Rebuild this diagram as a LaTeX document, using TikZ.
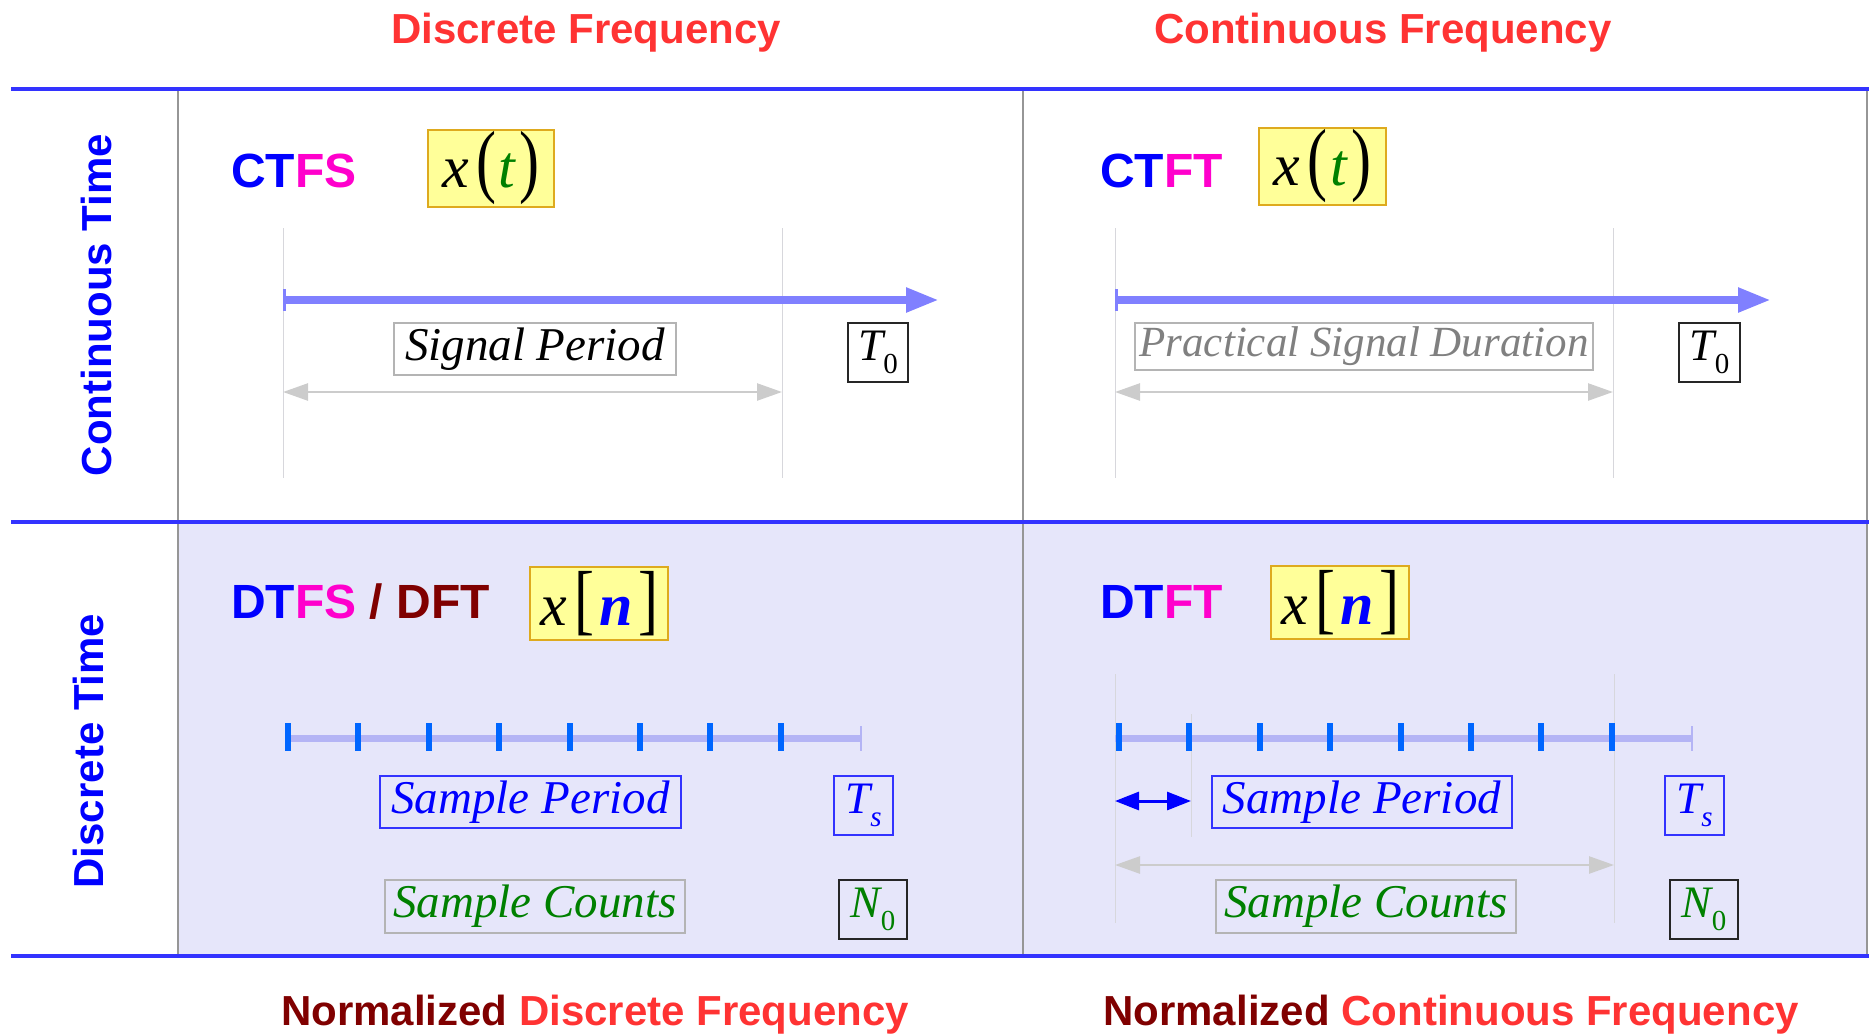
\documentclass[tikz,border=0pt]{standalone}
\usepackage{fontspec}
\setmainfont{Liberation Serif}
\setsansfont{Liberation Sans}
\usepackage{graphicx}
\usetikzlibrary{arrows.meta}
\definecolor{gridblue}{RGB}{51,51,255}
\definecolor{hdrred}{RGB}{255,51,51}
\definecolor{dkred}{RGB}{128,0,0}
\definecolor{mag}{RGB}{255,0,204}
\definecolor{lav}{RGB}{230,230,250}
\definecolor{arrowblue}{RGB}{128,128,255}
\definecolor{axisblue}{RGB}{180,180,245}
\definecolor{tickblue}{RGB}{0,102,255}
\definecolor{ygfill}{RGB}{255,255,153}
\definecolor{ygdraw}{RGB}{222,170,30}
\definecolor{tgreen}{RGB}{0,128,0}
\definecolor{lgray}{RGB}{204,204,204}
\definecolor{boxgray}{RGB}{180,180,180}
\definecolor{divgray}{RGB}{150,150,150}
\definecolor{guidegray}{RGB}{215,215,220}
\definecolor{txtgray}{RGB}{128,128,128}
\newcommand{\mysub}[1]{\raisebox{-0.3em}{\fontsize{29}{29}\selectfont #1}}
\newcommand{\tallp}[2]{\scalebox{1}[#1]{\upshape #2}}
\newcommand{\xoft}{{\fontsize{60}{64}\selectfont\itshape x\kern7pt\tallp{1.35}{(}\kern3pt\textcolor{tgreen}{t}\kern4pt\tallp{1.35}{)}}}
\newcommand{\xofn}{{\fontsize{60}{64}\selectfont\itshape x\kern8pt\tallp{1.3}{[}\kern5pt\textcolor{blue}{\bfseries n}\kern5pt\tallp{1.3}{]}}}
\tikzset{
  hdr/.style={font=\sffamily\bfseries\fontsize{42}{50}\selectfont, anchor=base, inner sep=0pt},
  rowlbl/.style={font=\sffamily\bfseries\fontsize{42}{50}\selectfont, text=blue, rotate=90, anchor=base, inner sep=0pt},
  acr/.style={font=\sffamily\bfseries\fontsize{48}{56}\selectfont, anchor=base west, inner sep=0pt},
  ybox/.style={draw=ygdraw, fill=ygfill, line width=1.5pt, inner sep=0pt},
  graybox/.style={draw=boxgray, line width=1.5pt, inner sep=0pt},
  bluebox/.style={draw=gridblue, line width=1.5pt, inner sep=0pt},
  blackbox/.style={draw=black!85, line width=1.5pt, inner sep=0pt},
  guide/.style={guidegray, line width=1pt},
  gridline/.style={gridblue, line width=4pt},
  divline/.style={divgray, line width=1.5pt},
  grayarr/.style={lgray, line width=2.5pt, {Triangle[length=25pt,width=17pt]}-{Triangle[length=25pt,width=17pt]}},
  bigarr/.style={arrowblue, line width=8pt, -{Triangle[length=33pt,width=23pt]}},
  axisline/.style={axisblue, line width=7pt},
  tickmark/.style={tickblue, line width=6pt},
}
\begin{document}
\begin{tikzpicture}[x=1pt,y=-1pt]
\useasboundingbox (0,0) rectangle (1869,1034);
% background of discrete-time row
\fill[lav] (178,522) rectangle (1867,956);
% dividers
\coordinate (d1t) at (178,88); \coordinate (d1b) at (178,956);
\coordinate (d2t) at (1023,88); \coordinate (d2b) at (1023,956);
\coordinate (d3t) at (1867,88); \coordinate (d3b) at (1867,956);
\draw[divline] (d1t) -- (d1b);
\draw[divline] (d2t) -- (d2b);
\draw[divline] (d3t) -- (d3b);
% grid lines
\coordinate (g1l) at (11,88.5); \coordinate (g1r) at (1869,88.5);
\coordinate (g2l) at (11,522); \coordinate (g2r) at (1869,522);
\coordinate (g3l) at (11,956); \coordinate (g3r) at (1869,956);
\draw[gridline] (g1l) -- (g1r);
\draw[gridline] (g2l) -- (g2r);
\draw[gridline] (g3l) -- (g3r);
% headers
\node[hdr, text=hdrred] (h1) at (586,43) {Discrete Frequency};
\node[hdr, text=hdrred] (h2) at (1383,43) {Continuous Frequency};
\node[hdr] (f1) at (595,1025) {\textcolor{dkred}{Normalized} \textcolor{hdrred}{Discrete Frequency}};
\node[hdr] (f2) at (1451,1025) {\textcolor{dkred}{Normalized} \textcolor{hdrred}{Continuous Frequency}};
\node[rowlbl] (r1) at (111,305) {Continuous Time};
\node[rowlbl] (r2) at (103,751) {Discrete Time};
% ---------- top-left: CTFS ----------
\draw[guide] (283,228) -- (283,478);
\draw[guide] (782,228) -- (782,478);
\node[acr] (ctfs) at (231,187) {\textcolor{blue}{CT}\textcolor{mag}{FS}};
\node[ybox, minimum width=126pt, minimum height=77pt] (xt1) at (491,168.5) {\xoft};
\coordinate (a1s) at (283,300); \coordinate (a1e) at (939,300);
\draw[bigarr] (a1s) -- (a1e);
\draw[arrowblue, line width=3pt] (284.5,289) -- (284.5,311);
\node[graybox, fill=white, minimum width=282pt, minimum height=52pt] (sp1) at (535,349) {\fontsize{47}{50}\selectfont\itshape Signal Period};
\node[blackbox, fill=white, minimum width=60pt, minimum height=59pt] (t01) at (878,352.5) {\fontsize{45}{48}\selectfont\itshape T\mysub{\upshape 0}};
\coordinate (b1s) at (283,392); \coordinate (b1e) at (782,392);
\draw[grayarr] (b1s) -- (b1e);
% ---------- top-right: CTFT ----------
\draw[guide] (1115,228) -- (1115,478);
\draw[guide] (1613,228) -- (1613,478);
\node[acr] (ctft) at (1100,187) {\textcolor{blue}{CT}\textcolor{mag}{FT}};
\node[ybox, minimum width=127pt, minimum height=77pt] (xt2) at (1322.5,166.5) {\xoft};
\coordinate (a2s) at (1115,300); \coordinate (a2e) at (1771,300);
\draw[bigarr] (a2s) -- (a2e);
\draw[arrowblue, line width=3pt] (1116.5,289) -- (1116.5,311);
\node[graybox, fill=white, minimum width=458pt, minimum height=47pt] (psd) at (1364,346.5) {\fontsize{43}{46}\selectfont\itshape\color{txtgray} Practical Signal Duration};
\node[blackbox, fill=white, minimum width=61pt, minimum height=59pt] (t02) at (1709.5,352.5) {\fontsize{45}{48}\selectfont\itshape T\mysub{\upshape 0}};
\coordinate (b2s) at (1115,392); \coordinate (b2e) at (1613,392);
\draw[grayarr] (b2s) -- (b2e);
% ---------- bottom-left: DTFS / DFT ----------
\node[acr] (dtfs) at (231,618) {\textcolor{blue}{DT}\textcolor{mag}{FS}\ {\color{dkred}/ DFT}};
\node[ybox, minimum width=138pt, minimum height=73pt] (xn1) at (599,603.5) {\xofn};
\coordinate (ax1s) at (285,738); \coordinate (ax1e) at (861,738);
\draw[axisline] (ax1s) -- (ax1e);
\draw[axisblue, line width=2pt] (861,726) -- (861,751);
\foreach \i in {0,...,7} \draw[tickmark] ({288+70.4*\i},723) -- ({288+70.4*\i},751);
\node[bluebox, minimum width=301pt, minimum height=52pt] (samp1) at (530.5,802) {\fontsize{47}{50}\selectfont\itshape\color{blue} Sample Period};
\node[bluebox, minimum width=59pt, minimum height=59pt] (ts1) at (863.5,805.5) {\fontsize{45}{48}\selectfont\itshape\color{blue} T\mysub{s}};
\node[graybox, minimum width=300pt, minimum height=53pt] (cnt1) at (535,906.5) {\fontsize{47}{50}\selectfont\itshape\color{tgreen} Sample Counts};
\node[blackbox, minimum width=68pt, minimum height=59pt] (n01) at (873,909.5) {\fontsize{45}{48}\selectfont\itshape\color{tgreen} N\mysub{\upshape 0}};
% ---------- bottom-right: DTFT ----------
\draw[guide] (1115,674) -- (1115,923);
\draw[guide] (1614,674) -- (1614,923);
\draw[guide] (1191,714) -- (1191,837);
\node[acr] (dtft) at (1100,618) {\textcolor{blue}{DT}\textcolor{mag}{FT}};
\node[ybox, minimum width=138pt, minimum height=73pt] (xn2) at (1340,602.5) {\xofn};
\coordinate (ax2s) at (1115,738); \coordinate (ax2e) at (1692,738);
\draw[axisline] (ax2s) -- (ax2e);
\draw[axisblue, line width=2pt] (1692,726) -- (1692,751);
\foreach \i in {0,...,7} \draw[tickmark] ({1119+70.4*\i},723) -- ({1119+70.4*\i},751);
\coordinate (sps) at (1115,801); \coordinate (spe) at (1191,801);
\draw[blue, line width=3pt, {Triangle[length=24pt,width=18pt]}-{Triangle[length=24pt,width=18pt]}] (sps) -- (spe);
\node[bluebox, minimum width=300pt, minimum height=52pt] (samp2) at (1362,802) {\fontsize{47}{50}\selectfont\itshape\color{blue} Sample Period};
\node[bluebox, minimum width=59pt, minimum height=59pt] (ts2) at (1694.5,805.5) {\fontsize{45}{48}\selectfont\itshape\color{blue} T\mysub{s}};
\coordinate (b3s) at (1115,865); \coordinate (b3e) at (1614,865);
\draw[grayarr] (b3s) -- (b3e);
\node[graybox, minimum width=300pt, minimum height=53pt] (cnt2) at (1366,906.5) {\fontsize{47}{50}\selectfont\itshape\color{tgreen} Sample Counts};
\node[blackbox, minimum width=68pt, minimum height=59pt] (n02) at (1704,909.5) {\fontsize{45}{48}\selectfont\itshape\color{tgreen} N\mysub{\upshape 0}};
\end{tikzpicture}
\end{document}
